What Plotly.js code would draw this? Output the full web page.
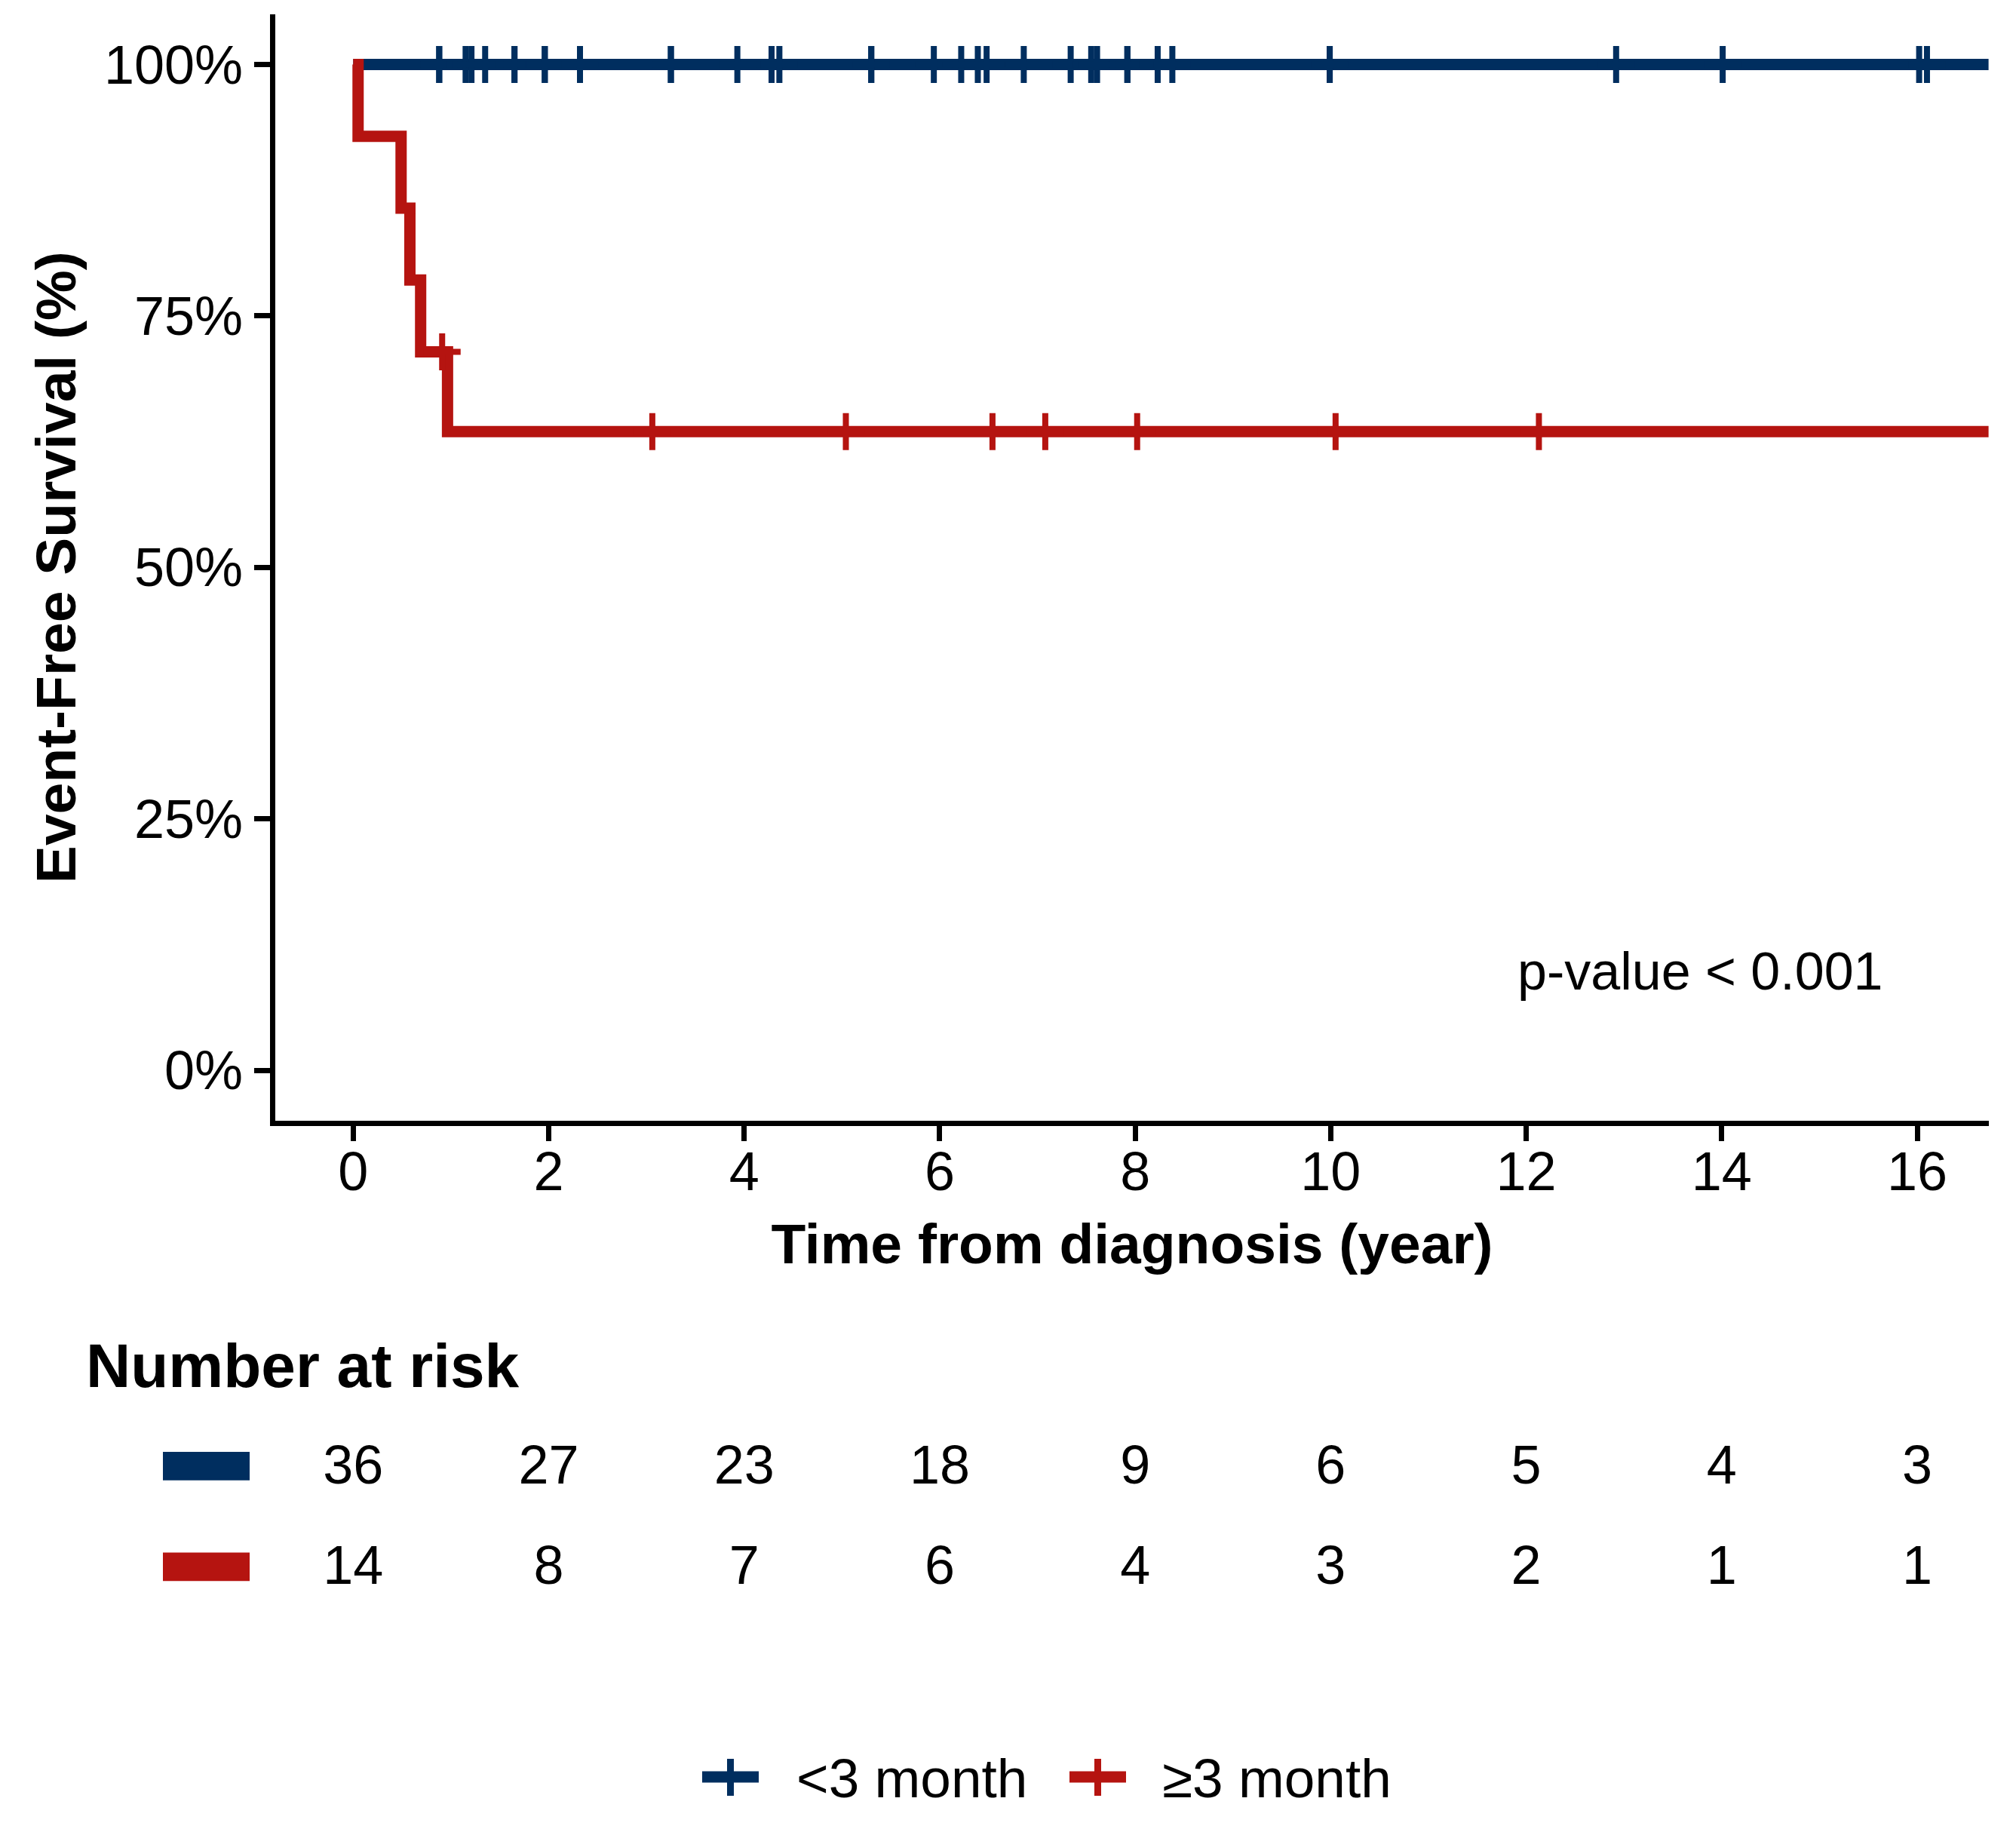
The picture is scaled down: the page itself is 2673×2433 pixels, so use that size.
<!DOCTYPE html>
<html><head><meta charset="utf-8">
<script src="https://cdn.plot.ly/plotly-3.0.1.min.js"></script>
<style>html,body{margin:0;padding:0;background:#fff;}</style>
</head><body>
<div id="chart" style="width:2673px;height:2433px;"></div>
<script>
// ---------------- data ----------------
const groupNames = ['<3 month', '≥3 month'];
const groupColors = ['#002E5F', '#B51410'];

// Kaplan-Meier step curves (time in years, survival in %)
const blueStepTime = [0, 16.73];
const blueStepSurv = [100, 100];
const redStepTime = [0, 0.05, 0.49, 0.58, 0.69, 0.965, 16.73];
const redStepSurv = [100, 92.86, 85.71, 78.57, 71.43, 63.49, 63.49];

// censoring times
const blueCensorTime = [0.88, 0.88, 1.15, 1.21, 1.35, 1.65, 1.65, 1.96, 1.96,
  2.32, 3.25, 3.25, 3.93, 4.28, 4.36, 5.30, 5.30, 5.94,
  6.22, 6.39, 6.48, 6.86, 7.34, 7.55, 7.61, 7.92, 7.92,
  8.23, 8.38, 9.99, 9.99, 12.92, 14.01, 16.02, 16.10];
const redCensorTime = [0.91, 3.06, 5.04, 6.54, 7.08, 8.02, 10.05, 12.13];

// number at risk table
const riskTimes = [0, 2, 4, 6, 8, 10, 12, 14, 16];
const blueAtRisk = [36, 27, 23, 18, 9, 6, 5, 4, 3];
const redAtRisk = [14, 8, 7, 6, 4, 3, 2, 1, 1];

// ticks
const xTickVals = [0, 2, 4, 6, 8, 10, 12, 14, 16];
const yTickVals = [0, 25, 50, 75, 100];
const yTickText = ['0%', '25%', '50%', '75%', '100%'];

// ---------------- helpers ----------------
function stepAt(times, surv, t) {
  let v = surv[0];
  for (let i = 0; i < times.length; i++) { if (times[i] <= t) v = surv[i]; }
  return v;
}
const W = 2673, H = 2433;
const px = x => x / W;          // pixel x -> paper
const py = y => 1 - y / H;      // pixel y -> paper
const FONT = 'Liberation Sans, Arial, Helvetica, sans-serif';

const traces = [
  { x: blueStepTime, y: blueStepSurv, type: 'scatter', mode: 'lines',
    line: { shape: 'hv', color: groupColors[0], width: 15 }, hoverinfo: 'skip', showlegend: false },
  { x: blueCensorTime, y: blueCensorTime.map(t => stepAt(blueStepTime, blueStepSurv, t)),
    type: 'scatter', mode: 'markers',
    marker: { symbol: 'cross-thin', size: 35, color: groupColors[0], line: { color: groupColors[0], width: 8 } },
    hoverinfo: 'skip', showlegend: false },
  { x: redStepTime, y: redStepSurv, type: 'scatter', mode: 'lines',
    line: { shape: 'hv', color: groupColors[1], width: 15 }, hoverinfo: 'skip', showlegend: false },
  { x: redCensorTime, y: redCensorTime.map(t => stepAt(redStepTime, redStepSurv, t)),
    type: 'scatter', mode: 'markers',
    marker: { symbol: 'cross-thin', size: 35, color: groupColors[1], line: { color: groupColors[1], width: 8 } },
    hoverinfo: 'skip', showlegend: false },
  // risk table
  { x: riskTimes, y: riskTimes.map(() => 2), text: blueAtRisk.map(String), xaxis: 'x2', yaxis: 'y2',
    type: 'scatter', mode: 'text', textposition: 'middle center',
    textfont: { family: FONT, size: 72, color: '#000' }, hoverinfo: 'skip', showlegend: false },
  { x: riskTimes, y: riskTimes.map(() => 1), text: redAtRisk.map(String), xaxis: 'x2', yaxis: 'y2',
    type: 'scatter', mode: 'text', textposition: 'middle center',
    textfont: { family: FONT, size: 72, color: '#000' }, hoverinfo: 'skip', showlegend: false }
];

const xDomain = [px(365), px(2637)];
const xRange = [-0.797, 16.733];

const axisCommon = {
  showline: true, linecolor: '#000', linewidth: 7.5, mirror: false,
  ticks: 'outside', tickcolor: '#000', tickwidth: 7,
  showgrid: false, zeroline: false, automargin: false,
  tickfont: { family: FONT, size: 72, color: '#000' }
};

const shapes = [
  // risk table colour keys
  { type: 'rect', xref: 'paper', yref: 'y2', x0: px(216), x1: px(331), y0: 2.035 - 0.141, y1: 2.035 + 0.141,
    fillcolor: groupColors[0], line: { width: 0 } },
  { type: 'rect', xref: 'paper', yref: 'y2', x0: px(216), x1: px(331), y0: 1.035 - 0.141, y1: 1.035 + 0.141,
    fillcolor: groupColors[1], line: { width: 0 } },
  // legend keys
  { type: 'line', xref: 'paper', yref: 'paper', x0: px(931), x1: px(1006), y0: py(2356), y1: py(2356),
    line: { color: groupColors[0], width: 15 } },
  { type: 'line', xref: 'paper', yref: 'paper', x0: px(968.5), x1: px(968.5), y0: py(2332), y1: py(2381),
    line: { color: groupColors[0], width: 9 } },
  { type: 'line', xref: 'paper', yref: 'paper', x0: px(1418), x1: px(1493), y0: py(2356), y1: py(2356),
    line: { color: groupColors[1], width: 15 } },
  { type: 'line', xref: 'paper', yref: 'paper', x0: px(1455.5), x1: px(1455.5), y0: py(2332), y1: py(2381),
    line: { color: groupColors[1], width: 9 } }
];

const annotations = [
  { text: 'p-value < 0.001', xref: 'x', yref: 'y', x: 13.78, y: 9.86, xanchor: 'center', yanchor: 'middle',
    showarrow: false, font: { family: FONT, size: 70, color: '#000' } },
  { text: '<b>Number at risk</b>', xref: 'paper', yref: 'paper', x: px(112), y: py(1811), xanchor: 'left', yanchor: 'middle',
    showarrow: false, font: { family: FONT, size: 82, color: '#000' } },
  { text: groupNames[0], xref: 'paper', yref: 'paper', x: px(1054), y: py(2357), xanchor: 'left', yanchor: 'middle',
    showarrow: false, font: { family: FONT, size: 73, color: '#000' } },
  { text: groupNames[1], xref: 'paper', yref: 'paper', x: px(1539), y: py(2357), xanchor: 'left', yanchor: 'middle',
    showarrow: false, font: { family: FONT, size: 73, color: '#000' } }
];

const layout = {
  width: W, height: H,
  margin: { l: 0, r: 0, t: 0, b: 0 },
  paper_bgcolor: '#fff', plot_bgcolor: '#fff',
  showlegend: false,
  font: { family: FONT, color: '#000' },
  xaxis: Object.assign({}, axisCommon, {
    domain: xDomain, range: xRange, anchor: 'y', tickvals: xTickVals, ticklen: 20, ticklabelstandoff: -22,
    title: { text: '<b>Time from diagnosis (year)</b>', standoff: 34, font: { family: FONT, size: 75, color: '#000' } }
  }),
  yaxis: Object.assign({}, axisCommon, {
    domain: [py(1485.7), py(18.8)], range: [-5, 105], anchor: 'x', tickvals: yTickVals, ticktext: yTickText, ticklen: 21,
    title: { text: '<b>Event-Free Survival (%)</b>', standoff: 15, font: { family: FONT, size: 75, color: '#000' } }
  }),
  xaxis2: { domain: xDomain, range: xRange, anchor: 'y2', visible: false, showgrid: false, zeroline: false },
  yaxis2: { domain: [py(2148.75), py(1881.75)], range: [0.5, 2.5], anchor: 'x2', visible: false, showgrid: false, zeroline: false },
  shapes: shapes,
  annotations: annotations
};

Plotly.newPlot('chart', traces, layout, { staticPlot: true, displayModeBar: false });
</script>
</body></html>
